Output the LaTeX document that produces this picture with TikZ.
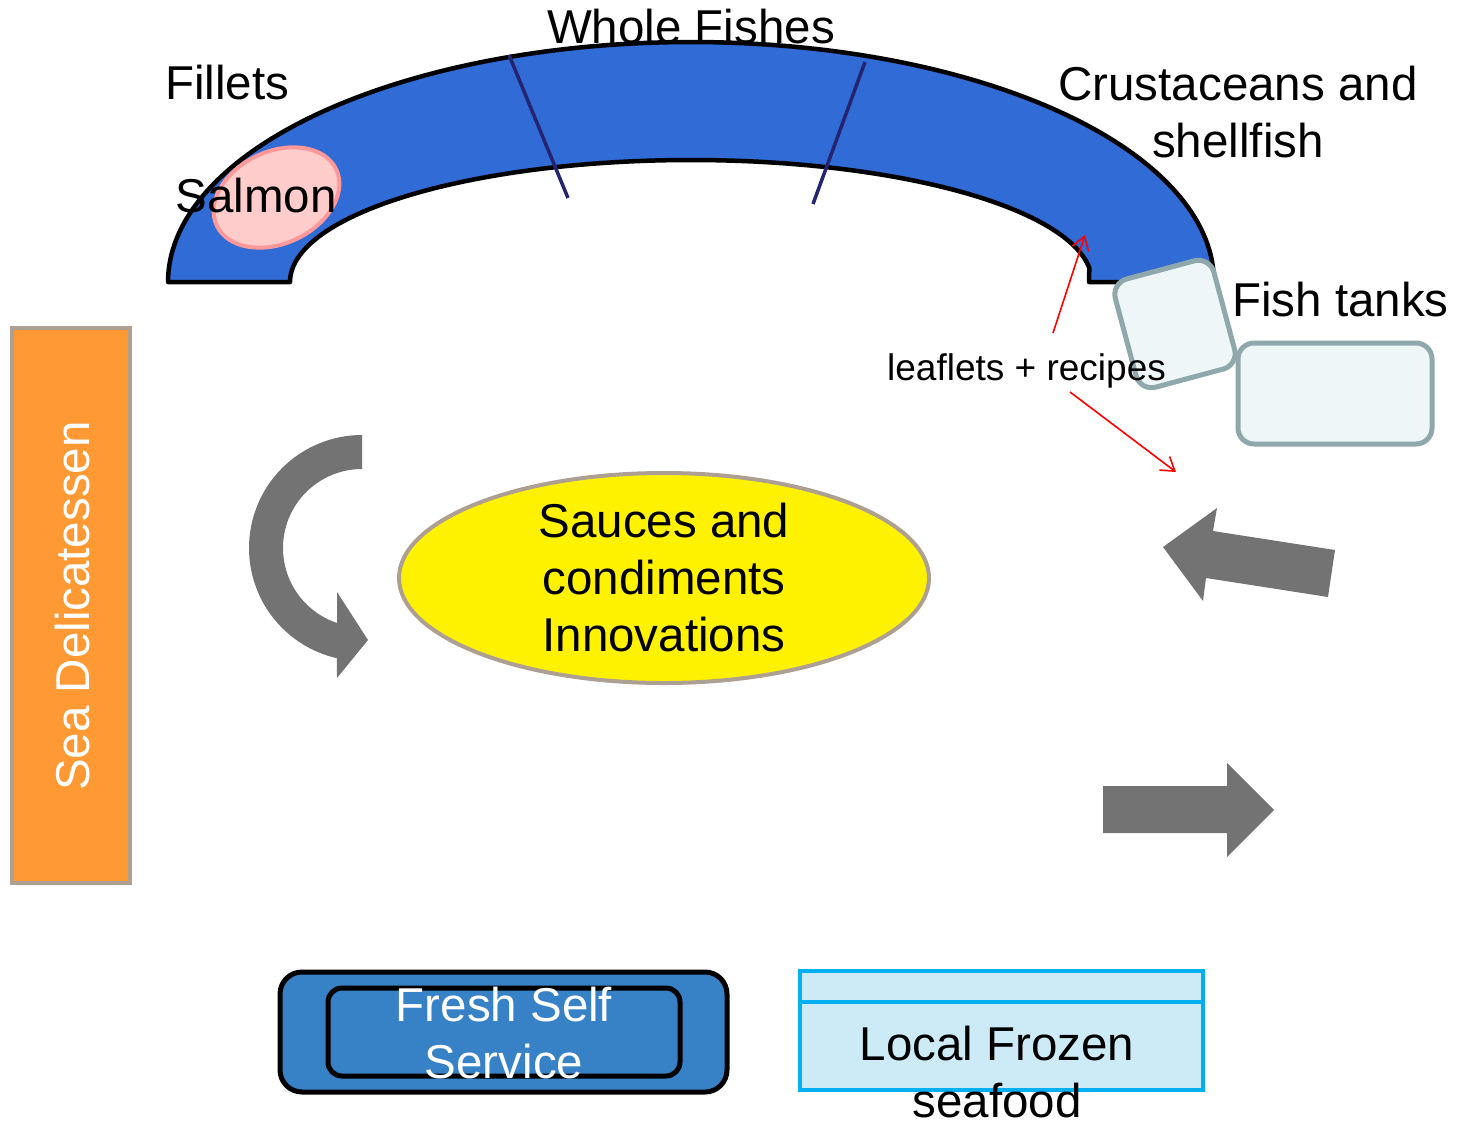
\documentclass[tikz,border=0pt]{standalone}
\usepackage{fontspec}
\setmainfont{Liberation Sans}
\usetikzlibrary{arrows.meta,shapes.geometric}

\definecolor{archblue}{RGB}{48,107,214}
\definecolor{divider}{RGB}{36,36,112}
\definecolor{salmonfill}{RGB}{255,204,204}
\definecolor{salmonline}{RGB}{255,153,153}
\definecolor{tankfill}{RGB}{239,246,248}
\definecolor{tankline}{RGB}{143,168,171}
\definecolor{arrowgrey}{RGB}{115,115,115}
\definecolor{ovalline}{RGB}{173,160,146}
\definecolor{delifill}{RGB}{255,153,51}
\definecolor{freshblue}{RGB}{55,129,198}
\definecolor{frozenfill}{RGB}{204,235,246}
\definecolor{frozenline}{RGB}{0,176,240}

\begin{document}
\begin{tikzpicture}[x=1pt,y=-1pt,
  lbl/.style={font=\fontsize{47.5}{57}\selectfont, inner sep=0pt, align=center},
  small/.style={font=\fontsize{37}{44}\selectfont, inner sep=0pt},
  tankbox/.style={draw=tankline, fill=tankfill, line width=5pt, rounded corners=16pt, inner sep=0pt},
  blockarrow/.style={fill=arrowgrey},
  redarrow/.style={draw=red, line width=1.6pt, -{Straight Barb[length=13pt,width=17pt]}},
  freshbox/.style={draw=black, fill=freshblue, line width=5pt, inner sep=0pt},
]
\useasboundingbox (0,0) rectangle (1464,1122);

% label sitting behind the counter arch
\node[lbl, anchor=base] (whole) at (691,43) {Whole Fishes};

% the curved counter
\draw[fill=archblue, line width=4.5pt, line join=round]
  (168,282) -- plot[domain=180:0, samples=140] ({691+523*cos(\x)},{282-240*sin(\x)})
  -- (1089,282)
  -- plot[domain=6.6:180, samples=140] ({691+401*cos(\x)},{282-122*sin(\x)})
  -- cycle;

% section dividers
\coordinate (d1a) at (509,55);  \coordinate (d1b) at (568,198);
\coordinate (d2a) at (865,62);  \coordinate (d2b) at (813,204);
\draw[divider, line width=3.5pt] (d1a) -- (d1b);
\draw[divider, line width=3.5pt] (d2a) -- (d2b);

% salmon spot
\draw[salmonline, fill=salmonfill, line width=4pt, rotate around={25:(276.5,197.5)}]
  (276.5,197.5) ellipse [x radius=66, y radius=46];
\node[lbl, anchor=base] (salmon) at (256,212) {Salmon};

\node[lbl, anchor=base west] (fillets) at (165,99) {Fillets};
\node[lbl] (crust) at (1238,112) {Crustaceans and\\shellfish};

% fish tanks
\node[tankbox, rotate=15, minimum width=102pt, minimum height=112pt] (tank1) at (1175,324) {};
\node[tankbox, minimum width=194pt, minimum height=101pt] (tank2) at (1335,393.5) {};
\node[lbl, anchor=base west] (tanks) at (1232,316) {Fish tanks};

% leaflets with their pointers
\node[small, anchor=base west] (leaf) at (887,380) {leaflets + recipes};
\coordinate (r1s) at (1053,333); \coordinate (r1e) at (1085,235);
\coordinate (r2s) at (1070,392); \coordinate (r2e) at (1176,472);
\draw[redarrow] (r1s) -- (r1e);
\draw[redarrow] (r2s) -- (r2e);

% side shelf
\node[draw=ovalline, fill=delifill, line width=4pt, minimum width=118pt, minimum height=555pt, inner sep=0pt] (deli) at (71,605.5) {};
\node[lbl, text=white, rotate=90, anchor=base] (delitext) at (89,606) {Sea Delicatessen};

% curved flow arrow
\fill[arrowgrey]
  plot[domain=90:257.2, samples=80] ({362+113*cos(\x)},{548-113*sin(\x)})
  -- (337,678) -- (368,640) -- (337,592)
  -- plot[domain=251.6:90, samples=80] ({362+79*cos(\x)},{548-79*sin(\x)})
  -- cycle;

% central oval
\node[draw=ovalline, fill=yellow, line width=4pt, ellipse, minimum width=530pt, minimum height=210pt, inner sep=0pt] (oval) at (664,578) {};
\node[lbl] (sauces) at (664,578) {Sauces and\\condiments\\Innovations};

% block arrows on the right
\fill[blockarrow] (1163,547) -- (1217,508) -- (1213,531) -- (1335,550) -- (1328,597) -- (1206,578) -- (1203,601) -- cycle;
\fill[blockarrow] (1103,786) -- (1227,786) -- (1227,763) -- (1274,810) -- (1227,857) -- (1227,833) -- (1103,833) -- cycle;

% self-service counter
\node[freshbox, rounded corners=22pt, minimum width=447pt, minimum height=120pt] (fresh) at (503.5,1032) {};
\node[freshbox, rounded corners=14pt, minimum width=352pt, minimum height=88pt] (freshin) at (504,1032) {};
\node[lbl, text=white] (freshtext) at (504,1033) {Fresh Self\\Service};

% frozen cabinet
\node[draw=frozenline, fill=frozenfill, line width=4pt, minimum width=403pt, minimum height=119pt, inner sep=0pt] (frozen) at (1001.5,1030.5) {};
\draw[frozenline, line width=4pt] (frozen.west |- 0,1002) -- (frozen.east |- 0,1002);
\node[lbl] (frozentext) at (997,1072) {Local Frozen\\seafood};
\end{tikzpicture}
\end{document}
